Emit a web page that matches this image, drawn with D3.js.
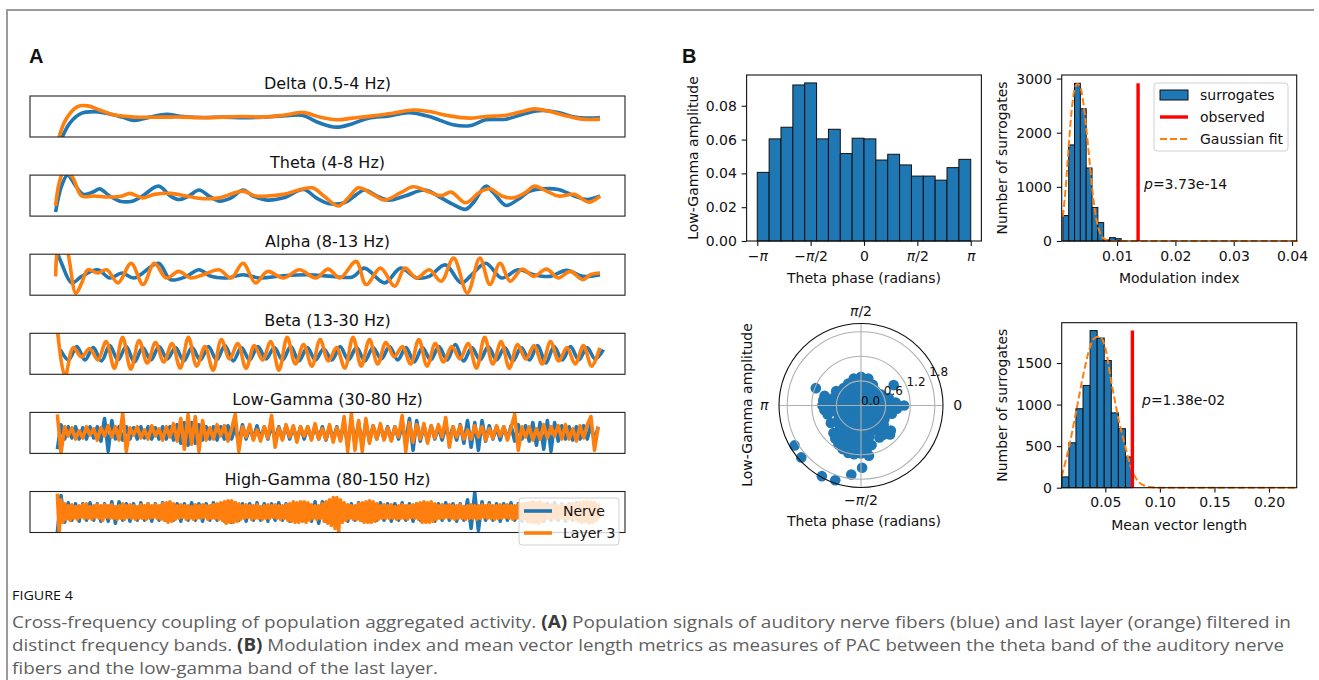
<!DOCTYPE html>
<html>
<head>
<meta charset="utf-8">
<script src="https://cdn.jsdelivr.net/npm/d3@7"></script>
<style>
body { margin: 0; background: #fff; }
svg text { font-family: "DejaVu Sans", sans-serif; fill: #111; }
</style>
</head>
<body>
<div id="wrapper"></div>
<script>
// ---------- panel A : band filtered population signals ----------
const bandTitles = ["Delta (0.5-4 Hz)", "Theta (4-8 Hz)", "Alpha (8-13 Hz)",
    "Beta (13-30 Hz)", "Low-Gamma (30-80 Hz)", "High-Gamma (80-150 Hz)"];

// [time (0-100 of the window), normalised amplitude]
const deltaNerve = [[5.0,-1.3],[6.7,-0.32],[8.7,0.16],[10.7,0.24],[12.8,0.16],[15.5,-0.03],[17.5,-0.19],
    [20.2,-0.03],[22.9,0.11],[25.7,0],[29.1,-0.05],[32.5,-0.03],[35.8,-0.06],[39.2,-0.03],[42.6,0.03],
    [45.7,0.06],[48.7,-0.32],[51.5,-0.52],[54.2,-0.35],[56.9,-0.08],[60.3,0.03],[63.7,0.19],[67.1,0],
    [71.1,-0.40],[73.9,-0.45],[76.6,-0.16],[80.0,-0.13],[83.4,0.16],[86.1,0.29],[88.8,0.19],[91.5,-0.03],
    [94.2,-0.08],[95.8,-0.05]];
const deltaLayer = [[4.6,-1.3],[6.0,-0.16],[8.0,0.48],[9.7,0.52],[11.7,0.32],[14.1,0.08],[17.5,-0.03],
    [22.3,-0.03],[25.7,-0.03],[29.1,-0.06],[32.5,-0.03],[35.8,0],[39.2,-0.03],[42.6,0.06],[46.0,0.19],
    [48.7,-0.03],[51.5,-0.16],[54.2,-0.08],[57.6,0.03],[61.0,0.16],[64.4,0.32],[67.1,0.24],[70.5,0.03],
    [73.9,-0.08],[76.6,0],[80.0,0.06],[82.7,0.24],[84.7,0.37],[87.4,0.24],[90.2,0.03],[92.9,-0.13],[95.8,-0.13]];

const thetaNerve = [[4.3,-0.8],[5.3,0.46],[6.3,1.0],[7.7,0.46],[9.0,0.06],[10.7,0.19],[11.7,0.33],[13.4,-0.02],
    [15.1,-0.27],[17.2,-0.27],[18.9,-0.02],[21.6,0.46],[23.6,-0.02],[25.0,-0.19],[26.7,-0.02],[28.4,0.27],
    [30.1,-0.02],[31.8,-0.27],[33.8,-0.11],[35.8,0.27],[37.5,-0.02],[39.9,-0.22],[42.6,-0.11],[46.0,0.30],
    [48.1,-0.11],[50.1,-0.38],[52.8,-0.35],[54.9,0.06],[56.2,0.27],[58.2,0],[60.3,-0.22],[63.0,-0.02],
    [66.4,0.27],[69.1,-0.11],[71.1,-0.43],[73.2,-0.67],[74.5,-0.35],[76.6,0.46],[77.9,0.14],[80.0,-0.48],
    [82.0,-0.19],[84.0,0.22],[86.1,0.33],[88.8,0.30],[91.5,-0.02],[93.6,-0.19],[95.8,-0.02]];
const thetaLayer = [[4.3,-0.51],[5.6,1.1],[7.0,0.95],[8.7,-0.02],[10.7,-0.02],[13.4,-0.07],[15.5,-0.02],
    [16.8,0.11],[18.9,-0.11],[20.9,0.06],[23.6,0.11],[26.3,-0.02],[29.1,-0.15],[31.8,-0.11],[35.8,0.22],
    [37.9,-0.02],[39.9,-0.02],[42.6,0.06],[47.4,0.38],[49.4,-0.02],[51.8,-0.51],[53.5,-0.11],[55.2,0.38],
    [57.6,0.06],[59.6,-0.22],[62.3,0.14],[64.4,0.43],[67.1,0.17],[69.1,0],[70.8,0.17],[73.2,-0.35],
    [75.6,0.17],[77.3,0.33],[79.3,-0.02],[81.3,-0.11],[83.4,0.17],[84.7,0.46],[86.8,0.22],[88.8,-0.02],
    [91.5,0.06],[93.9,-0.32],[95.8,-0.02]];

const alphaNerve = [[4.3,1.3],[5.3,0.56],[7.0,-0.40],[8.7,-0.08],[11.4,0.24],[13.4,-0.16],[15.5,0.08],
    [17.5,-0.16],[21.6,0.56],[23.6,-0.24],[26.3,-0.08],[28.4,0.24],[30.4,-0.08],[33.1,-0.16],[35.8,0],
    [38.6,-0.16],[42.6,-0.05],[46.7,0],[50.8,-0.08],[54.2,-0.11],[56.2,0.32],[59.6,-0.40],[62.3,0.32],
    [65.0,-0.16],[67.1,-0.08],[69.8,0.48],[72.5,-0.40],[74.5,0.08],[76.6,0.56],[79.3,-0.16],[82.0,0.24],
    [84.7,0],[87.4,-0.08],[90.2,0.21],[92.9,-0.08],[95.8,0]];
const alphaLayer = [[4.3,-0.08],[5.0,1.6],[6.0,1.4],[7.7,-0.9],[8.7,-0.4],[9.7,0.24],[11.4,0.08],[12.9,0.24],
    [14.8,-0.40],[17.0,0.56],[19.0,-0.48],[20.9,0.56],[22.9,-0.16],[25.0,0.16],[27.0,-0.16],[29.1,0],
    [31.8,0.24],[33.8,-0.16],[35.8,0.56],[37.9,-0.40],[39.9,0.16],[42.6,-0.16],[45.3,0.24],[48.0,-0.16],
    [50.1,0.27],[52.1,-0.16],[54.8,0.65],[56.5,-0.48],[58.9,0.32],[61.3,-0.56],[63.0,0.32],[65.0,-0.16],
    [67.1,0.24],[69.1,-0.32],[71.2,0.81],[73.5,-0.89],[75.6,0.81],[77.3,-0.48],[79.0,0.56],[80.7,-0.32],
    [82.7,0.27],[84.7,-0.08],[86.8,0.27],[88.8,-0.16],[90.8,0.16],[92.9,-0.24],[94.2,0],[95.8,0.08]];

// beta: extrema read every half cycle
const betaStart = 4.5, betaStep = 1.383;
const betaLayer = [1.5,-1.1,0.3,-0.15,0.25,-0.3,0.6,-0.7,0.8,-0.75,
    0.65,-0.45,0.55,-0.4,0.5,-0.7,0.8,-0.6,0.35,-0.8,
    0.7,-0.25,0.5,-0.7,0.4,-0.3,0.6,-0.8,0.8,-0.5,
    0.45,-0.6,0.7,-0.35,0.3,-0.7,0.8,-0.6,0.7,-0.5,
    0.55,-0.15,0.35,-0.5,0.7,-0.6,0.5,-0.4,0.35,-0.25,
    0.5,-0.7,0.8,-0.5,0.6,-0.7,0.45,-0.25,0.4,-0.5,
    0.6,-0.35,0.3,-0.5,0.4,-0.6,0.3];
const betaNerve = [0.2,-0.3,0.35,-0.3,0.3,-0.35,0.4,-0.3,0.35,-0.4,
    0.3,-0.3,0.35,-0.25,0.3,-0.35,0.3,-0.3,0.35,-0.3,
    0.4,-0.35,0.3,-0.3,0.35,-0.25,0.3,-0.3,0.35,-0.35,
    0.3,-0.3,0.25,-0.3,0.35,-0.3,0.3,-0.35,0.3,-0.25,
    0.35,-0.3,0.3,-0.4,0.3,-0.3,0.35,-0.3,0.45,-0.35,
    0.3,-0.3,0.35,-0.3,0.3,-0.35,0.3,-0.3,0.4,-0.45,
    0.35,-0.3,0.35,-0.3,0.3,-0.25,0.2];

// gamma bands: samples
const gammaStart = 4.6, gammaStep = 0.61, fastStep = 0.305;
const lowGammaLayer = [0.9,-1,0.3,-0.15,0.25,-0.3,0.1,-0.25,0.3,-0.1,
    0.2,-0.35,0.25,-0.15,0.35,-0.2,0.3,-0.35,0.95,-0.9,
    0.25,-0.1,0.3,-0.25,0.15,-0.3,0.35,-0.15,0.2,-0.35,
    0.3,-0.2,0.45,-0.4,0.7,-0.8,0.9,-0.55,0.8,-0.9,
    0.6,-0.35,0.25,-0.3,0.4,-0.15,0.35,-0.4,0.2,0.9,
    -0.9,0.3,-0.2,0.4,-0.35,0.15,-0.4,0.3,-0.25,0.85,
    -0.7,0.25,-0.35,0.4,-0.2,0.35,-0.45,0.3,-0.15,0.3,
    -0.35,0.45,-0.3,0.2,-0.3,0.4,-0.45,0.25,-0.4,0.8,
    -0.9,0.95,-0.85,0.6,-0.9,0.7,-0.5,0.35,-0.3,0.45,
    -0.35,0.25,-0.4,0.3,-0.2,0.85,-0.9,0.5,-0.45,0.4,
    -0.3,0.45,-0.5,0.35,-0.25,0.4,-0.2,0.75,-0.7,0.3,
    -0.2,0.35,-0.3,0.15,-0.3,0.35,-0.2,0.3,-0.35,0.2,
    -0.25,0.35,-0.15,0.3,-0.35,0.25,0.9,-0.85,0.3,-0.2,
    0.3,-0.35,0.2,-0.3,0.4,-0.25,0.3,-0.15,0.35,-0.3,
    0.4,-0.3,0.2,-0.4,0.35,-0.25,0.4,0.8,-0.85,0.3];
const lowGammaNerve = [-0.8,0.4,-0.3,0.3,-0.25,0.3,-0.3,0.25,-0.3,0.3,
    -0.25,0.3,-0.4,0.7,-0.9,0.6,-0.3,0.3,-0.35,0.3,
    -0.3,0.25,-0.3,0.3,-0.25,0.3,-0.3,0.25,-0.3,0.3,
    -0.3,0.3,-0.35,0.4,-0.5,0.5,-0.6,0.5,-0.5,0.4,
    -0.35,0.3,-0.3,0.3,-0.35,0.3,-0.3,0.35,-0.3,0.3,
    -0.5,0.4,-0.3,0.3,-0.3,0.35,-0.3,0.3,-0.3,0.4,
    -0.35,0.3,-0.3,0.35,-0.3,0.3,-0.35,0.3,-0.3,0.3,
    -0.3,0.35,-0.3,0.3,-0.35,0.3,-0.3,0.3,-0.35,0.5,
    -0.6,0.6,-0.5,0.5,-0.6,0.5,-0.4,0.35,-0.3,0.35,
    -0.3,0.3,-0.35,0.3,-0.3,0.4,-0.45,0.7,-0.85,0.6,
    -0.4,0.35,-0.4,0.35,-0.3,0.3,-0.35,0.3,-0.3,0.3,
    -0.35,0.4,-0.5,0.6,-0.7,0.5,-0.85,0.6,-0.4,0.35,
    -0.3,0.3,-0.35,0.3,-0.3,0.35,-0.4,0.4,-0.3,0.35,
    -0.4,0.5,-0.6,0.5,-0.8,0.6,-0.9,0.5,-0.4,0.35,
    -0.3,0.3,-0.35,0.3,-0.3,0.35,-0.3,0.4,-0.4,0.3];
const highGammaLayer = [
    0.9,-1,0.6,-0.5,0.4,-0.35,0.3,-0.4,0.35,-0.3,0.25,-0.35,0.3,-0.25,0.35,-0.3,0.4,-0.3,0.25,-0.35,
    0.3,-0.25,0.35,-0.3,0.3,-0.4,0.35,-0.25,0.3,-0.3,0.35,-0.3,0.25,-0.35,0.3,-0.3,0.4,-0.35,0.3,-0.25,
    0.35,-0.3,0.3,-0.35,0.25,-0.3,0.35,-0.3,0.3,-0.35,0.4,-0.3,0.3,-0.25,0.35,-0.3,0.3,-0.35,0.4,-0.4,
    0.45,-0.5,0.5,-0.45,0.4,-0.35,0.3,-0.3,0.35,-0.25,0.3,-0.35,0.3,-0.3,0.25,-0.35,0.35,-0.3,0.3,-0.3,
    0.35,-0.25,0.3,-0.35,0.3,-0.3,0.35,-0.3,0.4,-0.35,0.45,-0.4,0.5,-0.55,0.55,-0.5,0.55,-0.5,0.45,-0.45,
    0.4,-0.35,0.3,-0.3,0.35,-0.25,0.3,-0.35,0.3,-0.3,0.35,-0.3,0.25,-0.35,0.3,-0.3,0.35,-0.3,0.3,-0.25,
    0.35,-0.3,0.3,-0.35,0.3,-0.3,0.35,-0.4,0.4,-0.45,0.5,-0.5,0.45,-0.5,0.5,-0.45,0.5,-0.5,0.45,-0.4,
    0.35,-0.3,0.3,-0.35,0.3,-0.3,0.4,-0.45,0.5,-0.55,0.6,-0.65,0.7,-0.8,0.7,-0.95,0.6,-0.5,0.45,-0.4,
    0.35,-0.3,0.3,-0.35,0.3,-0.35,0.4,-0.4,0.45,-0.5,0.5,-0.5,0.55,-0.5,0.5,-0.45,0.4,-0.35,0.3,-0.3,
    0.35,-0.3,0.3,-0.3,0.35,-0.3,0.25,-0.35,0.3,-0.3,0.35,-0.3,0.3,-0.35,0.3,-0.25,0.35,-0.3,0.4,-0.35,
    0.45,-0.5,0.5,-0.5,0.45,-0.5,0.5,-0.45,0.4,-0.35,0.3,-0.3,0.35,-0.3,0.3,-0.25,0.35,-0.3,0.3,-0.35,
    0.3,-0.3,0.35,-0.3,0.25,-0.35,0.3,-0.3,0.35,-0.3,0.3,-0.35,0.3,-0.3,0.35,-0.25,0.3,-0.3,0.35,-0.3,
    0.3,-0.35,0.3,-0.3,0.35,-0.3,0.3,-0.25,0.35,-0.3,0.3,-0.35,0.3,-0.3,0.35,-0.3,0.4,-0.35,0.4,-0.45,
    0.45,-0.5,0.5,-0.5,0.45,-0.55,0.5,-0.45,0.4,-0.35,0.3,-0.3,0.35,-0.3,0.3,-0.35,0.3,-0.3,0.35,-0.3,
    0.3,-0.35,0.35,-0.3,0.4,-0.35,0.4,-0.45,0.45,-0.5,0.5,-0.45,0.5,-0.55,0.5,-0.5,0.45,-0.4,0.35,-0.3];
const highGammaNerve = [-1.0,0.8,-0.5,0.45,-0.4,0.4,-0.45,0.4,-0.4,0.45,
    -0.4,0.4,-0.45,0.4,-0.45,0.5,-0.55,0.5,-0.4,0.4,
    -0.45,0.4,-0.4,0.45,-0.4,0.4,-0.45,0.4,-0.4,0.45,
    -0.4,0.45,-0.4,0.4,-0.45,0.4,-0.4,0.45,-0.4,0.4,
    -0.45,0.4,-0.4,0.45,-0.4,0.4,-0.45,0.45,-0.5,0.45,
    -0.4,0.4,-0.45,0.4,-0.4,0.45,-0.4,0.4,-0.45,0.4,
    -0.4,0.45,-0.4,0.4,-0.45,0.4,-0.4,0.45,-0.4,0.4,
    -0.45,0.5,-0.55,0.5,-0.45,0.4,-0.4,0.45,-0.4,0.4,
    -0.45,0.4,-0.4,0.45,-0.4,0.4,-0.45,0.4,-0.4,0.45,
    -0.4,0.4,-0.45,0.4,-0.4,0.45,-0.4,0.4,-0.45,0.4,
    -0.4,0.45,-0.4,0.4,-0.45,0.4,-0.4,0.45,-0.4,0.4,
    -0.45,0.4,-0.4,0.6,-0.8,0.95,-0.9,0.5,-0.4,0.45,
    -0.4,0.4,-0.45,0.4,-0.4,0.45,-0.4,0.4,-0.45,0.4,
    -0.4,0.45,-0.4,0.4,-0.45,0.4,-0.4,0.45,-0.4,0.4,
    -0.45,0.4,-0.4,0.45,-0.4,0.4,-0.45,0.4,-0.4,0.4];

// ---------- panel B : phase amplitude coupling ----------
const phaseBinCount = 18;
const phaseAmplitude = [0.0406,0.0604,0.0673,0.0923,0.0935,0.0604,0.0661,0.0517,0.0608,
    0.0604,0.0479,0.0513,0.0450,0.0384,0.0384,0.0360,0.0434,0.0483];
const phaseTickLabels = ["−π", "−π/2", "0", "π/2", "π"];

const miBinStart = 0.0007, miBinWidth = 0.001;
const miCounts = [470,1775,2913,2443,1348,618,340,20,62,43];
const miFitX = [0.0007,0.0012,0.0017,0.0022,0.0027,0.0032,0.0037,0.0042,0.0047,0.0052,0.0057,0.0062,0.0067,0.0072,0.0077,0.0085,0.0095,0.041];
const miFitY = [450,1010,1750,2400,2800,2900,2840,2560,2100,1560,1000,560,270,120,45,10,0,0];
const miObserved = 0.0136, miP = "3.73e-14";

const mvlBinStart = 0.0101, mvlBinWidth = 0.00648;
const mvlCounts = [130,540,950,1230,1890,1800,1530,900,710,370];
const mvlFitX = [0.010,0.0176,0.0238,0.0299,0.0360,0.0400,0.0436,0.0470,0.0498,0.0559,0.0620,0.0681,0.0742,0.0803,0.0860,0.0910,0.1000,0.225];
const mvlFitY = [135,545,955,1365,1693,1800,1815,1790,1693,1242,832,504,217,74,25,8,0,0];
const mvlObserved = 0.0748, mvlP = "1.38e-02";

// polar scatter: [theta phase in degrees, low-gamma amplitude]
const polarPoints = [[0,1.05],[0,0.85],[0,0.62],[0,0.40],[0,0.18],[5,0.85],[5,0.65],
    [15,0.70],[15,0.48],[15,0.26],[30,0.55],[30,0.33],[32,0.94],[45,0.50],[45,0.28],
    [60,0.58],[60,0.36],[60,0.14],[75,0.68],[75,0.46],[75,0.24],[90,0.70],[90,0.48],[90,0.26],[90,0.05],
    [105,0.68],[105,0.46],[105,0.24],[120,0.62],[120,0.40],[120,0.18],[135,0.60],[135,0.38],
    [150,0.70],[150,0.48],[150,0.26],[159,1.18],[165,0.92],[165,0.70],[165,0.48],[165,0.26],
    [172,0.93],[172,0.71],[180,0.94],[180,0.72],[180,0.50],[180,0.28],[180,0.06],[187,0.90],[187,0.68],
    [195,0.84],[195,0.62],[195,0.40],[195,0.18],[210,0.85],[210,0.63],[210,0.41],[211,1.89],[221,1.93],
    [225,0.95],[225,0.73],[225,0.51],[225,0.29],[232,1.02],[232,0.80],
    [240,1.10],[240,0.88],[240,0.66],[240,0.44],[240,0.22],[241,1.97],[247,1.15],[247,0.93],[247,0.71],
    [251,1.93],[255,1.20],[255,0.98],[255,0.76],[255,0.54],[255,0.32],[262,1.20],[262,0.98],[262,0.76],[262,1.70],
    [270,1.17],[270,0.95],[270,0.73],[270,0.51],[270,0.29],[270,0.07],[271,1.52],[277,1.10],[277,0.88],[279,1.24],
    [285,1.00],[285,0.78],[285,0.56],[285,0.34],[300,0.90],[300,0.68],[300,0.46],[300,0.24],
    [308,0.90],[308,0.70],[315,1.00],[315,0.80],[315,0.58],[315,0.36],[320,0.95],[320,0.72],
    [330,0.66],[330,0.44],[330,0.22],[345,0.78],[345,0.56],[345,0.34],[355,0.88],[355,0.66]];
const polarRingTicks = [0.0, 0.6, 1.2, 1.8];
const polarAngleLabels = [[0,"0"],[90,"π/2"],[180,"π"],[270,"−π/2"]];

const captionLines = [
    ["Cross-frequency coupling of population aggregated activity. ", ["(A)"], " Population signals of auditory nerve fibers (blue) and last layer (orange) filtered in"],
    ["distinct frequency bands. ", ["(B)"], " Modulation index and mean vector length metrics as measures of PAC between the theta band of the auditory nerve"],
    ["fibers and the low-gamma band of the last layer."]
];

const BLUE = "#1f77b4", ORANGE = "#ff7f0e";

function build() {
    const svg = d3.select("#wrapper").append("svg")
        .attr("width", 1319).attr("height", 680);

    // card border
    svg.append("path").attr("d", "M7,680V10H1314")
        .attr("fill", "none").attr("stroke", "#9b9b9b").attr("stroke-width", 2);

    svg.append("text").attr("x", 29).attr("y", 63).text("A")
        .style("font-family", "Liberation Sans, Arial, sans-serif").style("font-weight", 700).style("font-size", "20px");
    svg.append("text").attr("x", 682).attr("y", 63).text("B")
        .style("font-family", "Liberation Sans, Arial, sans-serif").style("font-weight", 700).style("font-size", "20px");

    // ---- A ----
    const sampled = (vals, start, step) => vals.map((v, i) => [start + i * step, v]);
    const bands = [
        [deltaNerve, deltaLayer],
        [thetaNerve, thetaLayer],
        [alphaNerve, alphaLayer],
        [sampled(betaNerve, betaStart + 0.6, betaStep), sampled(betaLayer, betaStart, betaStep)],
        [sampled(lowGammaNerve, gammaStart, gammaStep), sampled(lowGammaLayer, gammaStart, gammaStep)],
        [sampled(highGammaNerve, gammaStart, gammaStep), sampled(highGammaLayer, gammaStart, fastStep)]
    ];
    const x = d3.scaleLinear().domain([0, 100]).range([30, 625]);
    const boxH = 41;

    bands.forEach((pair, i) => {
        const top = 96 + i * 79.1;
        const y = d3.scaleLinear().domain([-1, 1]).range([top + boxH, top]);
        const g = svg.append("g");
        g.append("clipPath").attr("id", "clipA" + i)
            .append("rect").attr("x", 30).attr("y", top).attr("width", 595).attr("height", boxH);
        const line = d3.line().x(d => x(d[0])).y(d => y(d[1]))
            .curve(i < 4 ? d3.curveCatmullRom.alpha(0.5) : d3.curveLinear);
        const lg = g.append("g").attr("clip-path", `url(#clipA${i})`);
        lg.append("path").datum(pair[0]).attr("d", line)
            .attr("fill", "none").attr("stroke", BLUE).attr("stroke-width", 3.6).attr("stroke-linejoin", "round");
        lg.append("path").datum(pair[1]).attr("d", line)
            .attr("fill", "none").attr("stroke", ORANGE).attr("stroke-width", 3.6).attr("stroke-linejoin", "round");
        g.append("rect").attr("x", 30).attr("y", top).attr("width", 595).attr("height", boxH)
            .attr("fill", "none").attr("stroke", "#222").attr("stroke-width", 1.1);
        g.append("text").attr("x", 327.5).attr("y", top - 7).attr("text-anchor", "middle")
            .style("font-size", "16px").text(bandTitles[i]);
    });

    // legend of A
    const legA = svg.append("g").attr("transform", "translate(519,498)");
    legA.append("rect").attr("width", 100).attr("height", 47).attr("rx", 3)
        .attr("fill", "#fff").attr("fill-opacity", 0.8).attr("stroke", "#d0d0d0");
    [["Nerve", BLUE], ["Layer 3", ORANGE]].forEach((d, i) => {
        legA.append("line").attr("x1", 5).attr("x2", 33).attr("y1", 13 + i * 22).attr("y2", 13 + i * 22)
            .attr("stroke", d[1]).attr("stroke-width", 3.6);
        legA.append("text").attr("x", 44).attr("y", 18 + i * 22).style("font-size", "14px").text(d[0]);
    });

    // ---- B ----
    function piText(sel) {
        sel.each(function() {
            const t = d3.select(this), s = t.text();
            t.text(null);
            s.split(/(π)/).forEach(part => {
                if (!part) return;
                const ts = t.append("tspan").text(part);
                if (part === "π") ts.style("font-style", "italic");
            });
        });
    }

    function frame(g, x0, x1, y0, y1) {
        g.append("rect").attr("x", x0).attr("y", y0).attr("width", x1 - x0).attr("height", y1 - y0)
            .attr("fill", "none").attr("stroke", "#111").attr("stroke-width", 1.1);
    }

    function styleAxis(ax) {
        ax.select(".domain").remove();
        ax.selectAll(".tick line").attr("stroke", "#111").attr("stroke-width", 1.1);
        ax.selectAll(".tick text").style("font-size", "14px").style("font-family", "DejaVu Sans, sans-serif").attr("fill", "#111");
    }

    function histogram(cfg) {
        const g = svg.append("g");
        const hx = d3.scaleLinear().domain(cfg.xDomain).range([cfg.x0, cfg.x1]);
        const hy = d3.scaleLinear().domain(cfg.yDomain).range([cfg.y1, cfg.y0]);
        g.selectAll("rect.bar").data(cfg.counts).enter().append("rect").attr("class", "bar")
            .attr("x", (d, i) => hx(cfg.binStart + i * cfg.binWidth))
            .attr("width", (d, i) => hx(cfg.binStart + (i + 1) * cfg.binWidth) - hx(cfg.binStart + i * cfg.binWidth))
            .attr("y", d => hy(d)).attr("height", d => hy(0) - hy(d))
            .attr("fill", BLUE).attr("stroke", "#111").attr("stroke-width", 1);
        const ax = g.append("g").attr("transform", `translate(0,${cfg.y1})`)
            .call(d3.axisBottom(hx).tickValues(cfg.xTicks).tickFormat(cfg.xFormat).tickSize(4.9).tickPadding(4.9));
        styleAxis(ax);
        const ay = g.append("g").attr("transform", `translate(${cfg.x0},0)`)
            .call(d3.axisLeft(hy).tickValues(cfg.yTicks).tickFormat(cfg.yFormat).tickSize(4.9).tickPadding(4.9));
        styleAxis(ay);
        g.append("text").attr("x", (cfg.x0 + cfg.x1) / 2).attr("y", cfg.y1 + 42).attr("text-anchor", "middle")
            .style("font-size", "14px").text(cfg.xLabel);
        g.append("text").attr("transform", `translate(${cfg.yLabelX},${(cfg.y0 + cfg.y1) / 2}) rotate(-90)`)
            .attr("text-anchor", "middle").attr("dy", "0.35em").style("font-size", "14px").text(cfg.yLabel);
        return {g, hx, hy, ax};
    }

    // phase histogram
    const phaseWidth = 2 * Math.PI / phaseBinCount;
    const ph = histogram({
        x0: 746.6, x1: 981.4, y0: 75, y1: 241,
        xDomain: [-Math.PI - phaseWidth * 0.9, Math.PI + phaseWidth * 0.9], yDomain: [0, 0.0982],
        binStart: -Math.PI, binWidth: phaseWidth, counts: phaseAmplitude,
        xTicks: [-Math.PI, -Math.PI / 2, 0, Math.PI / 2, Math.PI], xFormat: (d, i) => phaseTickLabels[i],
        yTicks: [0, 0.02, 0.04, 0.06, 0.08], yFormat: d3.format(".2f"),
        xLabel: "Theta phase (radians)", yLabel: "Low-Gamma amplitude", yLabelX: 693
    });
    piText(ph.ax.selectAll(".tick text"));
    frame(ph.g, 746.6, 981.4, 75, 241);

    // surrogate panels
    function surrogatePanel(cfg) {
        const h = histogram(cfg);
        const fit = d3.line().x((d, i) => h.hx(cfg.fitX[i])).y(d => h.hy(d)).curve(d3.curveMonotoneX);
        h.g.append("path").datum(cfg.fitY).attr("d", fit).attr("fill", "none")
            .attr("stroke", ORANGE).attr("stroke-width", 2).attr("stroke-dasharray", "7,3");
        h.g.append("line").attr("x1", h.hx(cfg.observed)).attr("x2", h.hx(cfg.observed))
            .attr("y1", h.hy(0)).attr("y2", h.hy(d3.max(cfg.counts)))
            .attr("stroke", "red").attr("stroke-width", 3.4);
        const pt = h.g.append("text").attr("x", cfg.pX).attr("y", cfg.pY).style("font-size", "14px");
        pt.append("tspan").style("font-style", "italic").text("p");
        pt.append("tspan").text("=" + cfg.p);
        frame(h.g, cfg.x0, cfg.x1, cfg.y0, cfg.y1);
        return h;
    }

    surrogatePanel({
        x0: 1061.7, x1: 1296.7, y0: 75, y1: 241,
        xDomain: [0.0005, 0.0408], yDomain: [0, 3066],
        binStart: miBinStart, binWidth: miBinWidth, counts: miCounts,
        xTicks: [0.01, 0.02, 0.03, 0.04], xFormat: d3.format(".2f"),
        yTicks: [0, 1000, 2000, 3000], yFormat: d3.format("d"),
        xLabel: "Modulation index", yLabel: "Number of surrogates", yLabelX: 1002,
        fitX: miFitX, fitY: miFitY, observed: miObserved, p: miP, pX: 1144, pY: 189
    });

    surrogatePanel({
        x0: 1061.7, x1: 1296.7, y0: 322.7, y1: 487.7,
        xDomain: [0.0100, 0.2254], yDomain: [0, 1985],
        binStart: mvlBinStart, binWidth: mvlBinWidth, counts: mvlCounts,
        xTicks: [0.05, 0.10, 0.15, 0.20], xFormat: d3.format(".2f"),
        yTicks: [0, 500, 1000, 1500], yFormat: d3.format("d"),
        xLabel: "Mean vector length", yLabel: "Number of surrogates", yLabelX: 1002,
        fitX: mvlFitX, fitY: mvlFitY, observed: mvlObserved, p: mvlP, pX: 1142, pY: 405
    });

    // legend of the surrogate panel
    const legB = svg.append("g").attr("transform", "translate(1154,83)");
    legB.append("rect").attr("width", 134).attr("height", 68).attr("rx", 3)
        .attr("fill", "#fff").attr("fill-opacity", 0.8).attr("stroke", "#d0d0d0");
    legB.append("rect").attr("x", 6).attr("y", 7).attr("width", 28).attr("height", 10)
        .attr("fill", BLUE).attr("stroke", "#111");
    legB.append("line").attr("x1", 6).attr("x2", 34).attr("y1", 34).attr("y2", 34)
        .attr("stroke", "red").attr("stroke-width", 3.4);
    legB.append("line").attr("x1", 6).attr("x2", 34).attr("y1", 56).attr("y2", 56)
        .attr("stroke", ORANGE).attr("stroke-width", 2).attr("stroke-dasharray", "7,3");
    ["surrogates", "observed", "Gaussian fit"].forEach((s, i) => {
        legB.append("text").attr("x", 46).attr("y", 17 + i * 22).style("font-size", "14px").text(s);
    });

    // polar scatter
    const cx = 861, cy = 405.5;
    const r = d3.scaleLinear().domain([0, 2.0]).range([0, 82]);
    const pol = svg.append("g").attr("transform", `translate(${cx},${cy})`);
    const toXY = (deg, v) => [r(v) * Math.cos(deg * Math.PI / 180), -r(v) * Math.sin(deg * Math.PI / 180)];
    pol.selectAll("circle.pt").data(polarPoints).enter().append("circle").attr("class", "pt")
        .attr("cx", d => toXY(d[0], d[1])[0]).attr("cy", d => toXY(d[0], d[1])[1])
        .attr("r", 5.3).attr("fill", BLUE);
    polarRingTicks.filter(v => v > 0).forEach(v => {
        pol.append("circle").attr("r", r(v)).attr("fill", "none").attr("stroke", "#b0b0b0").attr("stroke-width", 1.1);
    });
    polarAngleLabels.forEach(d => {
        const p = toXY(d[0], 2.0);
        pol.append("line").attr("x1", 0).attr("y1", 0).attr("x2", p[0]).attr("y2", p[1])
            .attr("stroke", "#b0b0b0").attr("stroke-width", 1.1);
    });
    pol.append("circle").attr("r", r(2.0)).attr("fill", "none").attr("stroke", "#111").attr("stroke-width", 1.1);
    polarRingTicks.forEach(v => {
        const p = toXY(22.5, v);
        pol.append("text").attr("x", p[0]).attr("y", p[1] - 1).style("font-size", "12px").text(v.toFixed(1));
    });
    const angLab = pol.selectAll("text.ang").data(polarAngleLabels).enter().append("text").attr("class", "ang")
        .attr("x", d => toXY(d[0], 2.0)[0] * 1.18).attr("y", d => toXY(d[0], 2.0)[1] * 1.15)
        .attr("text-anchor", "middle").attr("dy", "0.35em").style("font-size", "14px").text(d => d[1]);
    piText(angLab);
    svg.append("text").attr("x", 864).attr("y", 526).attr("text-anchor", "middle")
        .style("font-size", "14px").text("Theta phase (radians)");
    svg.append("text").attr("transform", "translate(747,405) rotate(-90)").attr("text-anchor", "middle")
        .attr("dy", "0.35em").style("font-size", "14px").text("Low-Gamma amplitude");

    // caption
    svg.append("text").attr("x", 12).attr("y", 600).text("FIGURE 4")
        .attr("textLength", 61).attr("lengthAdjust", "spacingAndGlyphs")
        .style("font-family", "Open Sans, sans-serif").style("font-size", "13px").attr("fill", "#666");
    const lineEnds = [1291, 1284, 438];
    captionLines.forEach((parts, i) => {
        const t = svg.append("text").attr("x", 12).attr("y", 628 + i * 23)
            .attr("textLength", lineEnds[i] - 12).attr("lengthAdjust", "spacingAndGlyphs")
            .style("font-family", "Open Sans, sans-serif").style("font-size", "17px").attr("fill", "#5f5f5f");
        parts.forEach(p => {
            const bold = Array.isArray(p);
            t.append("tspan").text(bold ? p[0] : p).style("font-weight", bold ? 700 : 400)
                .attr("fill", bold ? "#3a3a3a" : "#5f5f5f");
        });
    });
}

build();
</script>
</body>
</html>
